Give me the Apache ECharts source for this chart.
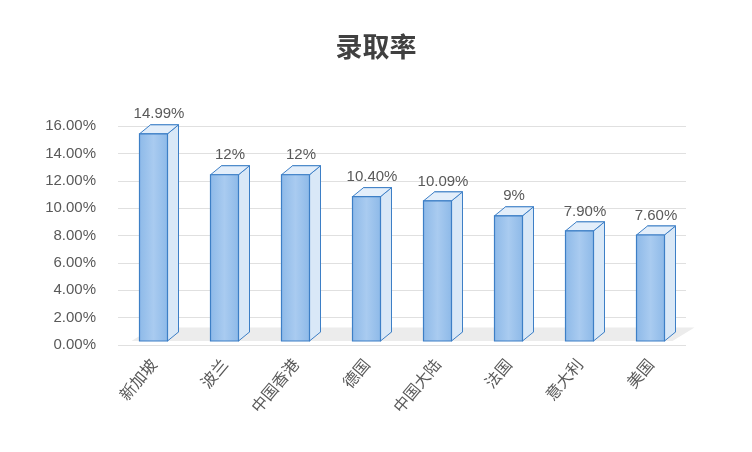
<!DOCTYPE html>
<html><head><meta charset="utf-8">
<script src="https://cdn.jsdelivr.net/npm/echarts@6/dist/echarts.min.js"></script>
<style>html,body{margin:0;background:#fff}#c{width:752px;height:452px}</style>
</head><body><div id="c"></div>
<script>
const categories = ['新加坡','波兰','中国香港','德国','中国大陆','法国','意大利','美国'];
const values = [14.99, 12, 12, 10.40, 10.09, 9, 7.90, 7.60];
const valueLabels = ['14.99%','12%','12%','10.40%','10.09%','9%','7.90%','7.60%'];
const yTicks = [0,2,4,6,8,10,12,14,16];

const chart = echarts.init(document.getElementById('c'));
const DX = 11, DY = -9, W = 28;
chart.setOption({
  animation:false,
  title:{text:'录取率',left:'center',top:28,textStyle:{fontSize:27,fontWeight:'bold',color:'#404040',fontFamily:'Noto Sans CJK SC'}},
  grid:{left:118,right:66,top:126,bottom:107},
  xAxis:{type:'category',data:categories,axisLine:{show:false},axisTick:{show:false},
    axisLabel:{rotate:50,fontSize:16,color:'#595959',margin:16,fontFamily:'Noto Sans CJK SC'}},
  yAxis:{type:'value',min:0,max:16,interval:2,
    axisLabel:{formatter:v=>v.toFixed(2)+'%',fontSize:15,color:'#595959',margin:22},
    splitLine:{lineStyle:{color:'#e0e0e0'}},axisLine:{show:false},axisTick:{show:false}},
  series:[{
    type:'custom',
    data:values.map((v,i)=>[i,v]),
    renderItem:(params,api)=>{
      const b = api.coord([api.value(0),0]);
      const t = api.coord([api.value(0),api.value(1)]);
      const x0 = b[0]-W/2, x1 = b[0]+W/2, yb=b[1]-4, yt=t[1]-6;
      const stroke = '#3d7fc6';
      const kids = [];
      if (params.dataIndex===0) {
        const e = api.coord([7,0]);
        kids.push({type:'polygon',shape:{points:[[x0-8,yb],[e[0]+W/2+8,yb],[e[0]+W/2+8+DX*2,yb+DY*1.5],[x0-8+DX*2,yb+DY*1.5]]},style:{fill:'#ececec'},z2:-1});
      }
      kids.push(
        {type:'polygon',shape:{points:[[x0+DX,yb+DY],[x1+DX,yb+DY],[x1+DX,yt+DY],[x0+DX,yt+DY]]},style:{fill:'rgba(190,215,240,0.35)',stroke:stroke,lineWidth:1}},
        {type:'polygon',shape:{points:[[x1,yb],[x1+DX,yb+DY],[x1+DX,yt+DY],[x1,yt]]},style:{fill:'#d9e8f7',stroke:stroke,lineWidth:1}},
        {type:'polygon',shape:{points:[[x0,yt],[x1,yt],[x1+DX,yt+DY],[x0+DX,yt+DY]]},style:{fill:'#e3eefa',stroke:stroke,lineWidth:1}},
        {type:'rect',shape:{x:x0,y:yt,width:W,height:yb-yt},style:{fill:new echarts.graphic.LinearGradient(0,0,1,0,[{offset:0,color:'#8db9e8'},{offset:0.5,color:'#a9cbf0'},{offset:1,color:'#8db9e8'}]),stroke:stroke,lineWidth:1.2}},
        {type:'text',style:{text:valueLabels[params.dataIndex],x:b[0]+DX/2,y:yt+DY-3,align:'center',verticalAlign:'bottom',fontSize:15,fill:'#595959'}}
      );
      return {type:'group',children:kids};
    }
  }]
});
</script></body></html>
